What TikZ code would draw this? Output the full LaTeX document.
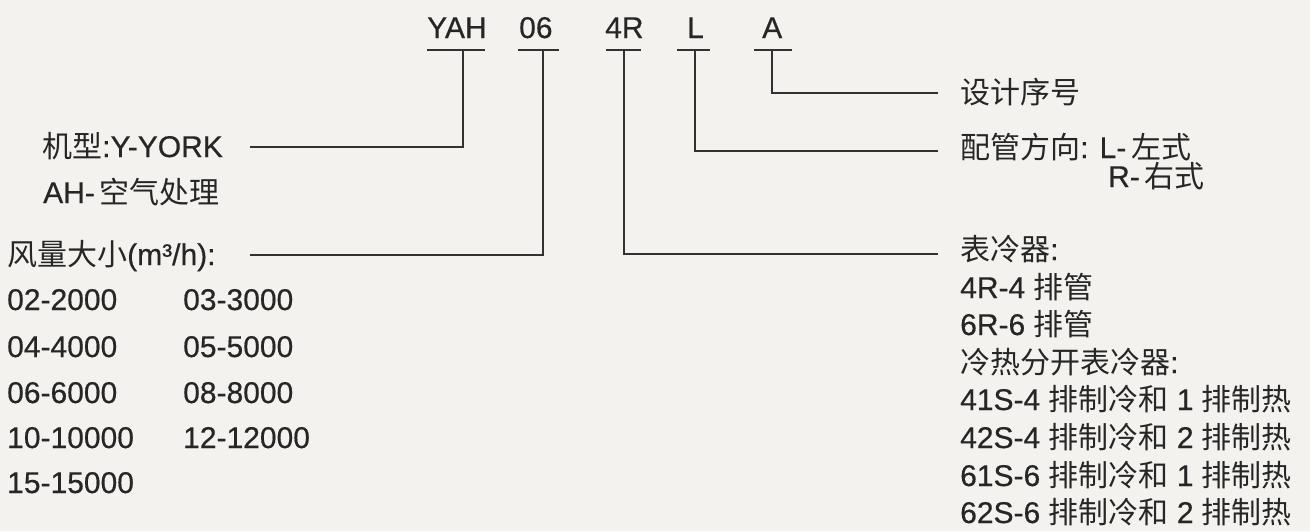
\documentclass[tikz,border=0pt]{standalone}
\usepackage{fontspec}
\setmainfont{Liberation Sans}[FakeBold=0.5]
\newfontfamily\cjk{Noto Sans CJK SC}
\newcommand\zh[1]{{\cjk #1}}
\definecolor{bg}{RGB}{243,242,239}
\definecolor{ink}{RGB}{38,38,38}
\definecolor{ln}{RGB}{50,50,50}
\begin{document}
\begin{tikzpicture}[x=1pt,y=-1pt,
  lbl/.style={anchor=base west, inner sep=0pt, text=ink, font=\fontsize{30}{35}\selectfont},
  conn/.style={draw=ln, line width=2pt},
  uline/.style={draw=ln, line width=2.4pt}]
\fill[bg] (0,0) rectangle (1310,531);
\useasboundingbox (0,0) rectangle (1310,531);

% model code parts
\node[lbl] (cYAH) at (427,38) {YAH};
\node[lbl] (c06)  at (519,38) {06};
\node[lbl] (c4R)  at (605,38) {4R};
\node[lbl] (cL)   at (687,38) {L};
\node[lbl] (cA)   at (762,38) {A};

\draw[uline] (427,50) -- (485,50);
\draw[uline] (518,50) -- (559,50);
\draw[uline] (606,50) -- (641,50);
\draw[uline] (677,50) -- (710,50);
\draw[uline] (754,50) -- (792,50);

\coordinate (tYAH) at (463,50);
\coordinate (t06)  at (543,50);
\coordinate (t4R)  at (624,50);
\coordinate (tL)   at (695,50);
\coordinate (tA)   at (772,50);

% left descriptions
\node[lbl] (dJX) at (42,157) {\zh{机型}:Y-YORK};
\node[lbl] (dAH) at (43,203) {AH-\,\zh{空气处理}};
\node[lbl] (dFL) at (7,265) {\zh{风量大小}(m³/h):};
\node[lbl] (r1a) at (7,310) {02-2000};
\node[lbl] (r1b) at (183,310) {03-3000};
\node[lbl] (r2a) at (7,357) {04-4000};
\node[lbl] (r2b) at (183,357) {05-5000};
\node[lbl] (r3a) at (7,403) {06-6000};
\node[lbl] (r3b) at (183,403) {08-8000};
\node[lbl] (r4a) at (7,448) {10-10000};
\node[lbl] (r4b) at (183,448) {12-12000};
\node[lbl] (r5a) at (7,493) {15-15000};

\coordinate (eJX) at (250,147);
\coordinate (eFL) at (250,255);

% right descriptions
\node[lbl] (dSJ) at (960,103) {\zh{设计序号}};
\node[lbl] (dPG) at (960,158) {\zh{配管方向}: L-\,\zh{左式}};
\node[lbl] (dPR) at (1108,187) {R-\,\zh{右式}};
\node[lbl] (dBL) at (960,260) {\zh{表冷器}:};
\node[lbl] (b1) at (960,298) {4R-4 \zh{排管}};
\node[lbl] (b2) at (960,335) {6R-6 \zh{排管}};
\node[lbl] (b3) at (960,373) {\zh{冷热分开表冷器}:};
\node[lbl] (b4) at (960,410) {41S-4 \zh{排制冷和} 1 \zh{排制热}};
\node[lbl] (b5) at (960,448) {42S-4 \zh{排制冷和} 2 \zh{排制热}};
\node[lbl] (b6) at (960,486) {61S-6 \zh{排制冷和} 1 \zh{排制热}};
\node[lbl] (b7) at (960,523) {62S-6 \zh{排制冷和} 2 \zh{排制热}};

\coordinate (eSJ) at (938,93);
\coordinate (ePG) at (938,151);
\coordinate (eBL) at (938,254);

% connectors
\draw[conn] (tYAH) |- (eJX);
\draw[conn] (t06) |- (eFL);
\draw[conn] (t4R) |- (eBL);
\draw[conn] (tL) |- (ePG);
\draw[conn] (tA) |- (eSJ);
\end{tikzpicture}
\end{document}
